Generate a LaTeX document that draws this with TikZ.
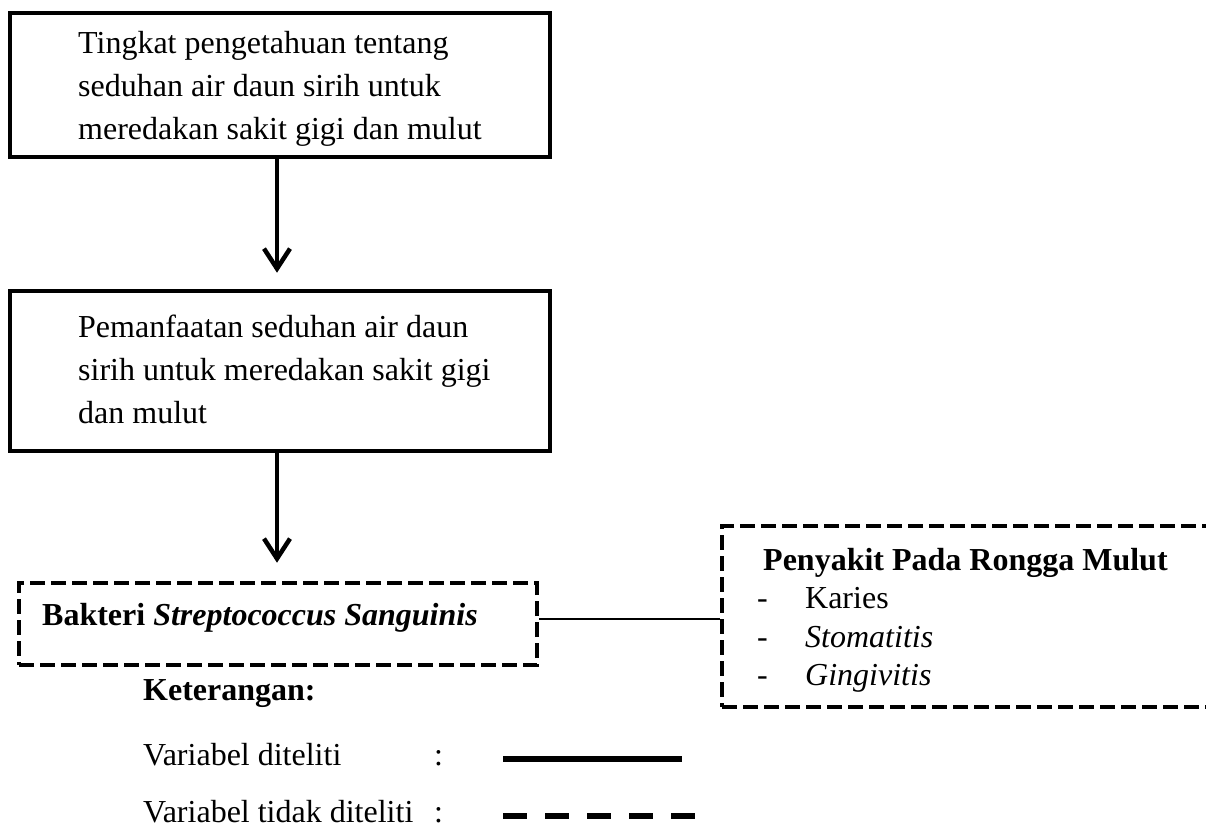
\documentclass[tikz,border=0pt]{standalone}
\usepackage{fontspec}
\setmainfont{Liberation Serif}
\usetikzlibrary{arrows.meta,positioning}

\tikzset{
  var/.style={draw, line width=4.5pt, inner sep=0pt},
  novar/.style={var, dash pattern=on 15pt off 6pt},
  isi/.style={inner sep=0pt, align=left, font=\fontsize{32}{43}\selectfont},
  panah/.style={line width=4.5pt, -{Straight Barb[length=20pt,width=26pt]}},
}

\begin{document}
\begin{tikzpicture}[x=1pt,y=-1pt]
  \useasboundingbox (0,0) rectangle (1206,829);
  % kotak
  \node[var, minimum width=540pt, minimum height=144pt] (tingkat) at (280,85) {};
  \node[var, minimum width=540pt, minimum height=160pt] (manfaat) at (280,371) {};
  \node[novar, minimum width=518pt, minimum height=82pt] (bakteri) at (278,624) {};
  \node[novar, minimum width=493pt, minimum height=181pt] (penyakit) at (968.5,616.5) {};
  % isi kotak
  \node[isi, anchor=north west] (tingkatisi) at (78,31)
    {Tingkat pengetahuan tentang\\seduhan air daun sirih untuk\\meredakan sakit gigi dan mulut};
  \node[isi, anchor=north west] (manfaatisi) at (78,315)
    {Pemanfaatan seduhan air daun\\sirih untuk meredakan sakit gigi\\dan mulut};
  \node[isi, anchor=base west] (bakteriisi) at (42,625)
    {\textbf{Bakteri \textit{Streptococcus Sanguinis}}};
  \node[isi, anchor=north west, font=\fontsize{32}{38.5}\selectfont] (penyakitisi) at (757,548)
    {\hspace*{6pt}\textbf{Penyakit Pada Rongga Mulut}\\
     \makebox[48pt][l]{-}Karies\\
     \makebox[48pt][l]{-}\textit{Stomatitis}\\
     \makebox[48pt][l]{-}\textit{Gingivitis}};
  % panah
  \draw[panah] ([xshift=-3pt]tingkat.south) -- ([xshift=-3pt,yshift=16pt]manfaat.north);
  \draw[panah] ([xshift=-3pt]manfaat.south) -- ([xshift=-1pt,yshift=18pt]bakteri.north);
  \coordinate (hub) at ([yshift=5pt]bakteri.east);
  \draw[line width=1.8pt] (hub) -- (hub -| penyakit.west);
  % keterangan
  \node[isi, anchor=base west, font=\fontsize{32}{43}\selectfont\bfseries] (ket) at (143,700) {Keterangan:};
  \node[isi, anchor=base west] (diteliti) at (143,765) {Variabel diteliti};
  \node[isi, anchor=base west] (titik1) at (434,765) {:};
  \node[isi, anchor=base west] (tidak) at (143,822) {Variabel tidak diteliti};
  \node[isi, anchor=base west] (titik2) at (434,822) {:};
  \coordinate (garis1a) at (503,759);
  \coordinate (garis1b) at (682,759);
  \coordinate (garis2a) at (503,816);
  \coordinate (garis2b) at (695,816);
  \draw[line width=6pt] (garis1a) -- (garis1b);
  \draw[line width=6pt, dash pattern=on 23.7pt off 18.3pt] (garis2a) -- (garis2b);
\end{tikzpicture}
\end{document}
